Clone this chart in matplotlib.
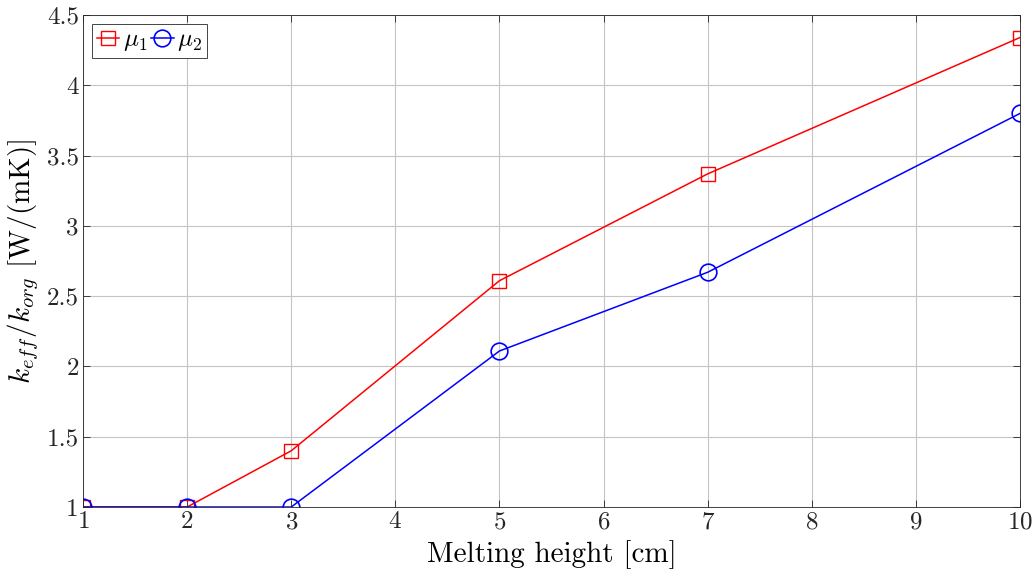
import matplotlib
matplotlib.use("Agg")
import matplotlib.pyplot as plt

plt.rcParams["font.family"] = "serif"
plt.rcParams["font.serif"] = ["cmr10"]
plt.rcParams["mathtext.fontset"] = "cm"
plt.rcParams["axes.formatter.use_mathtext"] = True

heights = [1, 2, 3, 5, 7, 10]
mu1 = [1.0, 1.0, 1.40, 2.61, 3.37, 4.34]
mu2 = [1.0, 1.0, 1.0, 2.11, 2.67, 3.80]
yticks = [1, 1.5, 2, 2.5, 3, 3.5, 4, 4.5]
ytick_labels = ["1", "1.5", "2", "2.5", "3", "3.5", "4", "4.5"]

fig = plt.figure(figsize=(10.35, 5.78), dpi=100)
ax = fig.add_axes([0.0802, 0.1228, 0.9053, 0.8512])

ax.plot(heights, mu1, color="red", lw=1.1, marker="s", ms=9.5,
        mfc="none", mew=1.0, label=r"$\mu_1$")
ax.plot(heights, mu2, color="blue", lw=1.1, marker="o", ms=12,
        mfc="none", mew=1.2, label=r"$\mu_2$")

ax.set_xlim(1, 10)
ax.set_ylim(1, 4.5)
ax.set_xticks(range(1, 11))
ax.set_yticks(yticks)
ax.set_yticklabels(ytick_labels)
ax.tick_params(direction="in", labelsize=18, length=5, width=0.6,
               colors="#262626", top=True, right=True, pad=3)
ax.grid(True, color="#c4c4c4", lw=0.8)
ax.set_axisbelow(True)
for s in ax.spines.values():
    s.set_color("#262626")
    s.set_linewidth(0.6)

ax.set_xlabel("Melting height [cm]", fontsize=21, labelpad=5)
ax.set_ylabel(r"$k_{eff}/k_{org}$ [W/(mK)]", fontsize=21, labelpad=4)

leg = ax.legend(loc="upper left", ncol=2, fontsize=18, handlelength=0.9,
                handletextpad=0.15, columnspacing=0.15, borderpad=0.2,
                borderaxespad=0.35, fancybox=False, framealpha=1)
leg.get_frame().set_edgecolor("#262626")
leg.get_frame().set_linewidth(0.6)

fig.savefig("out.png", dpi=100)
